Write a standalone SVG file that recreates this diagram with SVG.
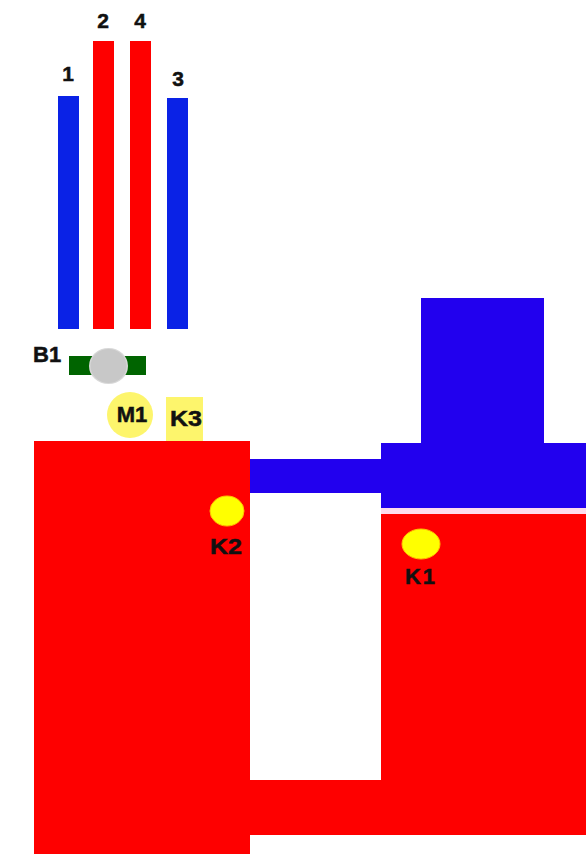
<svg xmlns="http://www.w3.org/2000/svg" width="586" height="862" viewBox="0 0 586 862">
<style>
.r{fill:#fe0000}
.b{fill:#2200ee}
.pb{fill:#0a22e6}
.y{fill:#ffff00;stroke:#ffc000;stroke-width:1}
.ly{fill:#fdf56c}
.t{font-family:"Liberation Sans",Arial,sans-serif;font-weight:700;fill:#111;stroke:#111;stroke-width:.5}
.s{font-size:21px}
.m{font-size:22px}
</style>
<rect width="586" height="862" fill="#ffffff"/>
<g id="vessel-top"><path class="b" d="M421 298H544V443H586V508H381V493H250V459H381V443H421Z"/></g>
<g id="gap"><rect x="381" y="508" width="205" height="6" fill="#ffdcec"/></g>
<g id="red-right"><rect x="381" y="514" width="205" height="321" class="r"/><rect x="250" y="780" width="131" height="55" class="r"/></g>
<g id="red-left"><rect x="34" y="441" width="216" height="413" class="r"/></g>
<g id="bar1"><rect x="58" y="96" width="21" height="233" class="pb"/><text class="t s" x="68" y="81" text-anchor="middle">1</text></g>
<g id="bar2"><rect x="93" y="41" width="21" height="288" class="r"/><text class="t s" x="103" y="28" text-anchor="middle">2</text></g>
<g id="bar4"><rect x="130" y="41" width="21" height="288" class="r"/><text class="t s" x="140" y="28" text-anchor="middle">4</text></g>
<g id="bar3"><rect x="167" y="98" width="21" height="231" class="pb"/><text class="t s" x="178" y="86" text-anchor="middle">3</text></g>
<g id="B1"><rect x="69" y="356" width="77" height="19" fill="#006400"/><ellipse cx="108.5" cy="366" rx="19.500" ry="18" fill="#d8d8d8"/><ellipse cx="108.500" cy="366" rx="18" ry="17" fill="#c8c8c8"/><text class="t m" x="33" y="362">B1</text></g>
<g id="M1"><circle cx="130" cy="415" r="23" fill="#fdf56c"/><text class="t m" x="132" y="422" text-anchor="middle">M1</text></g>
<g id="K3"><rect x="166" y="397" width="37" height="44" class="ly"/><text class="t m" x="186" y="426" text-anchor="middle" textLength="32" lengthAdjust="spacingAndGlyphs">K3</text></g>
<g id="K2"><ellipse cx="227" cy="511" rx="17" ry="15" class="y"/><text class="t m" x="226" y="554" text-anchor="middle" textLength="32" lengthAdjust="spacingAndGlyphs">K2</text></g>
<g id="K1"><ellipse cx="421" cy="544" rx="19" ry="15" class="y"/><text class="t m" x="420" y="584" text-anchor="middle" font-size="20" textLength="30">K1</text></g>
<g id="connectors"/>
</svg>
